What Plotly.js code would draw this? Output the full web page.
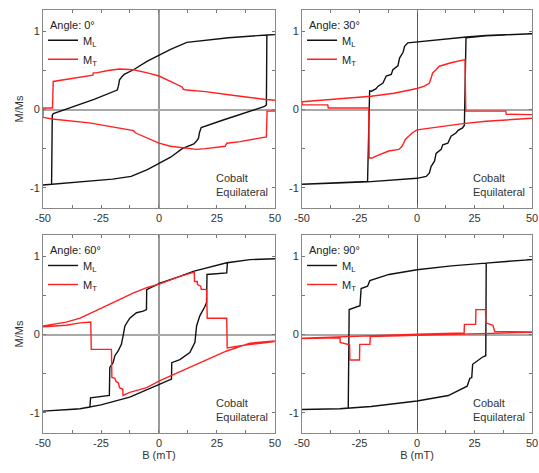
<!DOCTYPE html>
<html>
<head>
<meta charset="utf-8">
<script src="https://cdn.plot.ly/plotly-3.0.1.min.js"></script>
<style>html,body{margin:0;padding:0;background:#fff;}#chart{width:539px;height:473px;}</style>
</head>
<body>
<div id="chart"></div>
<script>
// Field B (mT) and normalised magnetisation M/Ms, full loop: descending sweep (+50 -> -50) then ascending (-50 -> +50)
const angles = ['Angle: 0°', 'Angle: 30°', 'Angle: 60°', 'Angle: 90°'];
const seriesNames = ['M<sub>L</sub>', 'M<sub>T</sub>'];
const sampleLabel = 'Cobalt<br>Equilateral';
const xTickVals = [-50, -25, 0, 25, 50];
const xTickText = ['-50', '-25', '0', '25', '50'];
const xMinorVals = [-37.5, -12.5, 12.5, 37.5];
const yTickVals = [-1, 0, 1];
const yTickText = ['-1', '0', '1'];
const yMinorVals = [-0.5, 0.5];

// ---- Angle 0 ----
const ml0_B = [50, 46.5, 30, 20, 12, 5, 0, -5, -11, -15, -16, -17, -17.5, -18, -28, -35, -45.5, -46, -46.3, -50,
               -50, -46.3, -30, -20, -12, -5, 0, 5, 10, 15, 16, 17, 17.5, 18.2, 28, 35, 45.5, 46.3, 46.5, 50];
const ml0_M = [0.96, 0.955, 0.92, 0.89, 0.86, 0.77, 0.70, 0.62, 0.51, 0.45, 0.42, 0.38, 0.30, 0.25, 0.13, 0.06, -0.05, -0.07, -0.955, -0.965,
               -0.965, -0.955, -0.92, -0.89, -0.855, -0.77, -0.69, -0.61, -0.50, -0.44, -0.41, -0.37, -0.29, -0.23, -0.13, -0.06, 0.04, 0.06, 0.955, 0.96];
const mt0_B = [50, 46, 30, 20, 12, 10.5, 10, 5, 0, -5, -11, -17, -22, -27, -28.3, -28.5, -35, -45.6, -45.9, -50,
               -50, -46, -30, -22, -11, -10, -5, 0, 5, 10, 16, 20, 28.5, 29.2, 35, 46.3, 46.6, 50];
const mt0_M = [0.12, 0.13, 0.19, 0.23, 0.25, 0.26, 0.29, 0.36, 0.43, 0.47, 0.51, 0.52, 0.50, 0.47, 0.47, 0.44, 0.41, 0.36, 0.02, 0.02,
               -0.10, -0.12, -0.17, -0.21, -0.27, -0.30, -0.36, -0.43, -0.47, -0.49, -0.51, -0.50, -0.47, -0.43, -0.41, -0.35, -0.02, -0.02];

// ---- Angle 30 ----
const ml30_B = [50, 40, 30, 21.5, 10, 0, -4, -5.4, -6.1, -7.6, -8.3, -10.5, -11.2, -13.4, -14.8, -16.9, -17.9, -19.8, -20.6, -21.5, -25, -35, -50,
                -50, -35, -21.5, -10, 0, 4, 5.4, 6.1, 7.6, 8.3, 10.5, 11.2, 13.4, 14.8, 16.9, 17.9, 19.8, 20.6, 21.3, 30, 40, 50];
const ml30_M = [0.97, 0.96, 0.95, 0.93, 0.90, 0.87, 0.855, 0.81, 0.73, 0.66, 0.56, 0.51, 0.45, 0.43, 0.34, 0.30, 0.265, 0.235, 0.24, -0.92, -0.925, -0.94, -0.955,
                -0.955, -0.94, -0.925, -0.90, -0.88, -0.855, -0.81, -0.73, -0.66, -0.56, -0.51, -0.45, -0.43, -0.34, -0.30, -0.265, -0.235, -0.20, 0.92, 0.945, 0.955, 0.97];
const mt30_B = [50, 30, 20, 10, 0, -2.1, -3.6, -5, -6.5, -7.9, -12.3, -15.2, -18.1, -19.5, -20.8, -21, -38.6, -38.8, -50,
                -50, -25, -20, -10, 0, 3.2, 5.4, 6.1, 6.8, 8.3, 9.7, 14.8, 19.8, 20.9, 21.2, 38.6, 38.8, 50];
const mt30_M = [-0.11, -0.15, -0.18, -0.22, -0.26, -0.30, -0.34, -0.38, -0.47, -0.51, -0.53, -0.56, -0.60, -0.62, -0.62, 0.02, 0.02, 0.06, 0.06,
                0.10, 0.155, 0.17, 0.21, 0.27, 0.30, 0.34, 0.40, 0.47, 0.51, 0.555, 0.60, 0.63, 0.64, -0.02, -0.02, -0.06, -0.065];

// ---- Angle 60 ----
const ml60_B = [50, 39.2, 29.2, 14.8, 9, 0.4, -5.3, -5.4, -6.8, -9.7, -12.6, -14.7, -15.5, -16.2, -17.6, -19, -19.8, -20.5, -21.2, -21.4, -29.5, -29.8, -35, -50,
                -50, -34, -25, -12.6, 0.4, 5.4, 5.5, 9, 13.3, 15.5, 16.2, 17.6, 19.8, 20.5, 20.7, 29.2, 29.5, 39.2, 50];
const ml60_M = [0.97, 0.96, 0.92, 0.81, 0.745, 0.66, 0.575, 0.32, 0.30, 0.28, 0.21, 0.11, -0.02, -0.125, -0.21, -0.27, -0.36, -0.40, -0.42, -0.78, -0.81, -0.93, -0.955, -0.98,
                -0.98, -0.95, -0.90, -0.80, -0.635, -0.57, -0.36, -0.32, -0.23, -0.10, 0.11, 0.24, 0.36, 0.41, 0.77, 0.79, 0.92, 0.96, 0.97];
const mt60_B = [50, 39.2, 29.2, 14.8, 0.4, -5.3, -12.6, -15.5, -15.6, -17, -17.5, -18.5, -19, -20.3, -20.5, -29.2, -29.4, -34, -40, -50,
                -50, -40, -34, -19.8, -11.2, -5.3, 0.4, 9, 14.8, 15.2, 15.3, 16.5, 16.6, 18, 18.2, 20.5, 20.8, 29.2, 29.4, 38, 50];
const mt60_M = [-0.08, -0.11, -0.21, -0.40, -0.59, -0.68, -0.74, -0.78, -0.70, -0.68, -0.62, -0.60, -0.56, -0.55, -0.19, -0.19, 0.16, 0.15, 0.12, 0.10,
                0.11, 0.16, 0.21, 0.41, 0.53, 0.60, 0.65, 0.745, 0.80, 0.80, 0.68, 0.68, 0.64, 0.62, 0.58, 0.575, 0.21, 0.21, -0.17, -0.13, -0.09];

// ---- Angle 90 ----
const ml90_B = [50, 40, 29.9, 15, 0, -12.2, -19.4, -20.5, -21.5, -24.3, -24.8, -28, -29.5, -29.9, -33.5, -50,
                -50, -33.5, -20, 0, 13.6, 20.8, 21.8, 23, 23.8, 24.2, 26.9, 28.4, 29.9, 30.1, 40, 50];
const ml90_M = [0.96, 0.94, 0.915, 0.88, 0.83, 0.77, 0.70, 0.69, 0.62, 0.59, 0.37, 0.34, 0.32, -0.94, -0.95, -0.96,
                -0.96, -0.95, -0.92, -0.85, -0.78, -0.68, -0.66, -0.56, -0.55, -0.38, -0.32, -0.29, -0.27, 0.915, 0.94, 0.96];
const mt90_B = [50, 0, -20.3, -20.5, -24.9, -25, -29.2, -29.3, -33.4, -33.5, -50,
                -50, 0, 20.5, 20.6, 25.5, 25.6, 29.8, 29.9, 33, 33.8, 50];
const mt90_M = [0.03, -0.01, -0.025, -0.125, -0.125, -0.325, -0.325, -0.13, -0.10, -0.04, -0.05,
                -0.045, 0.005, 0.02, 0.13, 0.13, 0.32, 0.32, 0.15, 0.12, 0.04, 0.035];

const panels = [
  {mlB: ml0_B, mlM: ml0_M, mtB: mt0_B, mtM: mt0_M},
  {mlB: ml30_B, mlM: ml30_M, mtB: mt30_B, mtM: mt30_M},
  {mlB: ml60_B, mlM: ml60_M, mtB: mt60_B, mtM: mt60_M},
  {mlB: ml90_B, mlM: ml90_M, mtB: mt90_B, mtM: mt90_M}
];

const FONT = 'Liberation Sans, Arial, sans-serif';
const traces = [];
panels.forEach((p, i) => {
  const sfx = i === 0 ? '' : String(i + 1);
  const lg = 'legend' + sfx;
  traces.push({x: p.mlB, y: p.mlM, type: 'scatter', mode: 'lines', name: seriesNames[0],
    xaxis: 'x' + sfx, yaxis: 'y' + sfx, legend: lg, line: {color: '#111111', width: 1.4}});
  traces.push({x: p.mtB, y: p.mtM, type: 'scatter', mode: 'lines', name: seriesNames[1],
    xaxis: 'x' + sfx, yaxis: 'y' + sfx, legend: lg, line: {color: '#ff2020', width: 1.4}});
});

const xDom = [[0, 0.4744], [0.5297, 1], [0, 0.4744], [0.5297, 1]];
const yDom = [[0.5319, 1], [0.5319, 1], [0, 0.4681], [0, 0.4681]];
const layout = {
  width: 539, height: 473,
  margin: {l: 43, r: 7, t: 10, b: 40},
  paper_bgcolor: '#ffffff', plot_bgcolor: '#ffffff',
  font: {family: FONT, size: 11, color: '#333333'},
  showlegend: true,
  annotations: []
};
// legend top positions (paper fraction of plot area)
const legPos = [[0.0, 0.9626], [0.5297, 0.9626], [0.0, 0.4303], [0.5297, 0.4303]];
for (let i = 0; i < 4; i++) {
  const sfx = i === 0 ? '' : String(i + 1);
  const thinX = (i === 1 || i === 3);
  const xa = {
    domain: xDom[i], anchor: 'y' + sfx, range: [-50, 50],
    tickmode: 'array', tickvals: xTickVals, ticktext: xTickText,
    ticks: 'inside', ticklen: 3, tickcolor: '#777', tickwidth: 1,
    minor: {tickmode: 'array', tickvals: xMinorVals, ticks: 'inside', ticklen: 3, tickcolor: '#777', tickwidth: 1},
    showline: true, linecolor: '#888', linewidth: 1, mirror: 'ticks',
    showgrid: false, zeroline: true, ticklabeloverflow: 'allow',
    zerolinecolor: thinX ? '#555' : '#9a9a9a', zerolinewidth: thinX ? 1 : 2,
    tickfont: {size: 11, color: '#333'}
  };
  if (i >= 2) xa.title = {text: 'B (mT)', font: {size: 11, color: '#333'}, standoff: 3};
  layout['xaxis' + sfx] = xa;
  const ya = {
    domain: yDom[i], anchor: 'x' + sfx, range: [-1.26, 1.275],
    tickmode: 'array', tickvals: yTickVals, ticktext: yTickText,
    ticks: 'inside', ticklen: 3, tickcolor: '#777', tickwidth: 1,
    minor: {tickmode: 'array', tickvals: yMinorVals, ticks: 'inside', ticklen: 3, tickcolor: '#777', tickwidth: 1},
    showline: true, linecolor: '#888', linewidth: 1, mirror: 'ticks',
    showgrid: false, zeroline: true, zerolinecolor: '#a8a8a8', zerolinewidth: 2,
    tickfont: {size: 11, color: '#333'}
  };
  if (i === 0 || i === 2) ya.title = {text: 'M/Ms', font: {size: 11, color: '#333'}, standoff: 4};
  layout['yaxis' + sfx] = ya;
  layout['legend' + sfx] = {
    x: legPos[i][0], y: legPos[i][1], xanchor: 'left', yanchor: 'top',
    bgcolor: 'rgba(0,0,0,0)', borderwidth: 0,
    font: {size: 11, color: '#222'},
    itemwidth: 30, tracegroupgap: 0
  };
  layout.annotations.push({
    xref: 'x' + sfx + ' domain', yref: 'y' + sfx + ' domain',
    x: 0.022, y: 0.925, xanchor: 'left', yanchor: 'middle', align: 'left',
    text: angles[i], showarrow: false, font: {size: 11, color: '#222'}
  });
  layout.annotations.push({
    xref: 'x' + sfx + ' domain', yref: 'y' + sfx + ' domain',
    x: 0.735, y: 0.04, xanchor: 'left', yanchor: 'bottom', align: 'left',
    text: sampleLabel, showarrow: false, font: {size: 11, color: '#333'}
  });
}

Plotly.newPlot('chart', traces, layout, {displayModeBar: false, staticPlot: true}).then(() => {
  // make sure the right-edge tick labels of the right-hand panels stay visible
  document.querySelectorAll('.x2tick text, .x4tick text').forEach(t => {
    if (t.textContent) { t.removeAttribute('display'); t.style.display = ''; }
  });
});
</script>
</body>
</html>
